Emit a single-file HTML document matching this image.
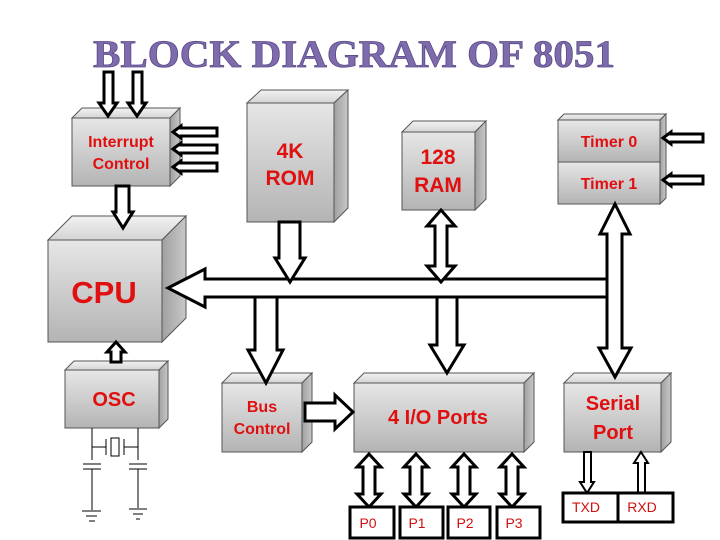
<!DOCTYPE html>
<html><head><meta charset="utf-8"><style>
html,body{margin:0;padding:0;background:#fff;}
svg{display:block;}
.t{font-family:"Liberation Sans",Arial,sans-serif;font-weight:bold;fill:#e01010;text-anchor:middle;}
.n{font-family:"Liberation Sans",Arial,sans-serif;fill:#d01010;text-anchor:middle;}
.ar{fill:#fff;stroke:#000;stroke-width:3;stroke-linejoin:miter;}
</style></head><body>
<svg width="720" height="540" viewBox="0 0 720 540" xmlns="http://www.w3.org/2000/svg">
<defs>
<linearGradient id="f" x1="0" y1="0" x2="0" y2="1"><stop offset="0" stop-color="#e6e6e6"/><stop offset="1" stop-color="#b4b4b4"/></linearGradient>
<linearGradient id="tp" x1="0" y1="0" x2="0" y2="1"><stop offset="0" stop-color="#f2f2f2"/><stop offset="1" stop-color="#d4d4d4"/></linearGradient>
<linearGradient id="sd" x1="0" y1="0" x2="1" y2="0"><stop offset="0" stop-color="#a0a0a0"/><stop offset="1" stop-color="#c8c8c8"/></linearGradient>
</defs>
<text x="354" y="67" font-family="'Liberation Serif',serif" font-weight="bold" font-size="39" fill="#7d6bab" stroke="#5a4a88" stroke-width="0.8" text-anchor="middle" textLength="522" lengthAdjust="spacingAndGlyphs">BLOCK DIAGRAM OF 8051</text>

<g stroke="#555" stroke-width="1">
<polygon points="72,118 82,108 180,108 170,118" fill="url(#tp)"/><polygon points="170,118 180,108 180,176 170,186" fill="url(#sd)"/><rect x="72" y="118" width="98" height="68" fill="url(#f)"/>
<polygon points="247,103 261,90 348,90 334,103" fill="url(#tp)"/><polygon points="334,103 348,90 348,208 334,222" fill="url(#sd)"/><rect x="247" y="103" width="87" height="119" fill="url(#f)"/>
<polygon points="48,240 72,216 186,216 162,240" fill="url(#tp)"/><polygon points="162,240 186,216 186,318 162,342" fill="url(#sd)"/><rect x="48" y="240" width="114" height="102" fill="url(#f)"/>
<polygon points="402,132 413,121 486,121 475,132" fill="url(#tp)"/><polygon points="475,132 486,121 486,199 475,210" fill="url(#sd)"/><rect x="402" y="132" width="73" height="78" fill="url(#f)"/>
<polygon points="558,120 564,114 666,114 660,120" fill="url(#tp)"/><polygon points="660,120 666,114 666,198 660,204" fill="url(#sd)"/><rect x="558" y="120" width="102" height="42" fill="url(#f)"/><rect x="558" y="162" width="102" height="42" fill="url(#f)"/>
<polygon points="65,370 74,361 168,361 159,370" fill="url(#tp)"/><polygon points="159,370 168,361 168,419 159,428" fill="url(#sd)"/><rect x="65" y="370" width="94" height="58" fill="url(#f)"/>
<polygon points="222,383 232,373 312,373 302,383" fill="url(#tp)"/><polygon points="302,383 312,373 312,442 302,452" fill="url(#sd)"/><rect x="222" y="383" width="80" height="69" fill="url(#f)"/>
<polygon points="354,383 364,373 534,373 524,383" fill="url(#tp)"/><polygon points="524,383 534,373 534,442 524,452" fill="url(#sd)"/><rect x="354" y="383" width="170" height="69" fill="url(#f)"/>
<polygon points="564,383 574,373 671,373 661,383" fill="url(#tp)"/><polygon points="661,383 671,373 671,442 661,452" fill="url(#sd)"/><rect x="564" y="383" width="97" height="69" fill="url(#f)"/>
</g>

<text class="t" x="121" y="147" font-size="16">Interrupt</text>
<text class="t" x="121" y="169" font-size="16">Control</text>
<text class="t" x="290" y="158" font-size="21">4K</text>
<text class="t" x="290" y="185" font-size="21">ROM</text>
<text class="t" x="104" y="303" font-size="31">CPU</text>
<text class="t" x="438" y="164" font-size="21">128</text>
<text class="t" x="438" y="192" font-size="21">RAM</text>
<text class="t" x="609" y="147" font-size="16">Timer 0</text>
<text class="t" x="609" y="189" font-size="16">Timer 1</text>
<text class="t" x="114" y="406" font-size="20">OSC</text>
<text class="t" x="262" y="412" font-size="16">Bus</text>
<text class="t" x="262" y="434" font-size="16">Control</text>
<text class="t" x="438" y="424" font-size="20">4 I/O Ports</text>
<text class="t" x="613" y="410" font-size="20">Serial</text>
<text class="t" x="613" y="439" font-size="20">Port</text>

<polygon class="ar" points="168,288 205,269 205,279 607,279 607,297 205,297 205,307"/>
<polygon class="ar" points="279,222 300,222 300,258 305,258 290,282 275,258 279,258"/>
<polygon class="ar" points="441,210 455,226 447,226 447,266 455,266 441,282 427,266 435,266 435,226 427,226"/>
<polygon class="ar" points="437,297 457,297 457,345 464,345 447,373 430,345 437,345"/>
<polygon class="ar" points="255,297 277,297 277,350 283,350 266,383 248,350 255,350"/>
<polygon class="ar" points="615,204 630,234 622,234 622,348 631,348 615,377 599,348 607,348 607,279 607,279 607,234 600,234"/>
<polygon class="ar" points="116,186 129,186 129,212 133,212 123,228 113,212 116,212"/>
<polygon class="ar" points="104,72 113,72 113,103 117,103 108,116 99,103 104,103"/>
<polygon class="ar" points="133,72 142,72 142,103 146,103 137,116 128,103 133,103"/>
<polygon class="ar" points="173,132 181,126 181,128 217,128 217,136 181,136 181,138"/>
<polygon class="ar" points="173,149 181,143 181,145 217,145 217,153 181,153 181,155"/>
<polygon class="ar" points="173,167 181,161 181,163 217,163 217,171 181,171 181,173"/>
<polygon class="ar" points="663,138 671,132 671,134 703,134 703,142 671,142 671,144"/>
<polygon class="ar" points="663,180 671,174 671,176 703,176 703,184 671,184 671,186"/>
<polygon class="ar" points="116,342 125,352 121,352 121,362 111,362 111,352 107,352"/>
<polygon class="ar" points="305,403 335,403 335,395 353,412 335,429 335,421 305,421"/>
<g>
<polygon class="ar" points="369,454 381,467 375,467 375,494 381,494 369,507 357,494 363,494 363,467 357,467"/>
<polygon class="ar" points="416,454 428,467 422,467 422,494 428,494 416,507 404,494 410,494 410,467 404,467"/>
<polygon class="ar" points="464,454 476,467 470,467 470,494 476,494 464,507 452,494 458,494 458,467 452,467"/>
<polygon class="ar" points="512,454 524,467 518,467 518,494 524,494 512,507 500,494 506,494 506,467 500,467"/>
</g>
<polygon class="ar" points="584,452 591,452 591,482 594,482 587,493 580,482 584,482" style="stroke-width:2"/>
<polygon class="ar" points="641,452 648,463 645,463 645,493 638,493 638,463 634,463" style="stroke-width:2"/>
<g fill="#fff" stroke="#000" stroke-width="3">
<rect x="350" y="507" width="44" height="31"/><rect x="400" y="507" width="43" height="31"/><rect x="448" y="507" width="42" height="31"/><rect x="497" y="507" width="43" height="31"/>
<rect x="563" y="493" width="55" height="29"/><rect x="618" y="493" width="55" height="29"/>
</g>
<text class="n" x="368" y="528" font-size="14">P0</text>
<text class="n" x="417" y="528" font-size="14">P1</text>
<text class="n" x="465" y="528" font-size="14">P2</text>
<text class="n" x="514" y="528" font-size="14">P3</text>
<text class="n" x="586" y="512" font-size="14">TXD</text>
<text class="n" x="642" y="512" font-size="14">RXD</text>
<g stroke="#000" stroke-width="1" fill="none">
<line x1="92" y1="428" x2="92" y2="460"/><line x1="138" y1="428" x2="138" y2="460"/>
<line x1="92" y1="447" x2="106" y2="447"/><line x1="124" y1="447" x2="138" y2="447"/>
<line x1="106" y1="439" x2="106" y2="455"/><line x1="124" y1="439" x2="124" y2="455"/>
<rect x="111" y="438" width="8" height="18"/>
<line x1="83" y1="464" x2="101" y2="464"/><line x1="83" y1="469" x2="101" y2="469"/>
<line x1="129" y1="464" x2="147" y2="464"/><line x1="129" y1="469" x2="147" y2="469"/>
<line x1="92" y1="469" x2="92" y2="510"/><line x1="138" y1="469" x2="138" y2="508"/>
<line x1="82" y1="511" x2="101" y2="511"/><line x1="86" y1="516" x2="97" y2="516"/><line x1="89" y1="521" x2="95" y2="521"/>
<line x1="129" y1="509" x2="147" y2="509"/><line x1="133" y1="514" x2="143" y2="514"/><line x1="136" y1="519" x2="140" y2="519"/>
</g>
</svg>
</body></html>
